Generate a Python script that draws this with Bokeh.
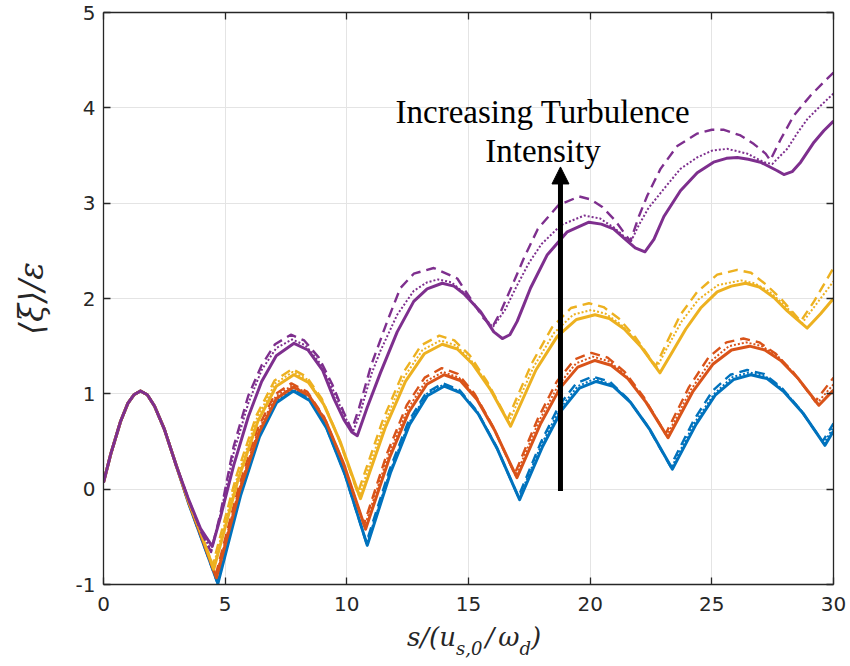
from bokeh.plotting import figure
from bokeh.models import Range1d, FixedTicker, LinearAxis, Label, Arrow, NormalHead, CustomJSTickFormatter, Div
from bokeh.layouts import column
from bokeh.embed import file_html
from bokeh.resources import INLINE

# ---------------- data ----------------
x_ticks = [0, 5, 10, 15, 20, 25, 30]
y_ticks = [-1, 0, 1, 2, 3, 4, 5]

# common start shared by all curves
start_x = [0.0, 0.3, 0.7, 1.0, 1.25, 1.52, 1.8, 2.1, 2.5, 3.0]
start_y = [0.07, 0.37, 0.71, 0.90, 0.99, 1.03, 0.99, 0.87, 0.63, 0.24]

# blue
blue_solid_x = [3.5, 4.0, 4.7, 5.63, 6.41, 7.12, 7.8, 8.47, 9.17, 9.93, 10.84, 11.79, 12.58, 13.31, 14.0, 14.68, 15.40, 16.17, 17.1, 18.05, 18.83, 19.56, 20.25, 20.94, 21.66, 22.44, 23.38, 24.35, 25.15, 25.89, 26.6, 27.27, 27.97, 28.74, 29.65, 30.0]
blue_solid_y = [-0.15, -0.5, -0.99, -0.07, 0.55, 0.91, 1.03, 0.93, 0.64, 0.15, -0.59, 0.17, 0.68, 0.98, 1.08, 1.01, 0.79, 0.43, -0.11, 0.45, 0.83, 1.06, 1.13, 1.08, 0.91, 0.63, 0.21, 0.68, 0.99, 1.15, 1.2, 1.16, 1.02, 0.80, 0.46, 0.61]
blue_dash_x = [3.5, 4.0, 4.68, 5.6, 6.37, 7.08, 7.75, 8.42, 9.12, 9.89, 10.8, 11.75, 12.53, 13.26, 13.95, 14.63, 15.35, 16.12, 17.05, 17.97, 18.73, 19.43, 20.1, 20.8, 21.54, 22.34, 23.3, 24.25, 25.03, 25.76, 26.45, 27.13, 27.85, 28.62, 29.55, 30.0]
blue_dash_y = [-0.15, -0.5, -0.98, -0.05, 0.57, 0.94, 1.06, 0.96, 0.67, 0.18, -0.56, 0.2, 0.71, 1.01, 1.11, 1.04, 0.82, 0.46, -0.08, 0.49, 0.88, 1.11, 1.18, 1.13, 0.95, 0.67, 0.24, 0.72, 1.03, 1.2, 1.25, 1.21, 1.07, 0.84, 0.5, 0.69]
blue_dot_x = [3.5, 4.0, 4.69, 5.62, 6.39, 7.1, 7.78, 8.45, 9.15, 9.91, 10.82, 11.77, 12.55, 13.28, 13.97, 14.65, 15.37, 16.14, 17.07, 18.0, 18.78, 19.49, 20.17, 20.87, 21.6, 22.39, 23.34, 24.3, 25.1, 25.84, 26.55, 27.22, 27.92, 28.69, 29.6, 30.0]
blue_dot_y = [-0.15, -0.5, -0.985, -0.06, 0.56, 0.93, 1.045, 0.95, 0.66, 0.16, -0.575, 0.18, 0.69, 1.0, 1.095, 1.025, 0.81, 0.445, -0.095, 0.47, 0.855, 1.08, 1.155, 1.1, 0.93, 0.65, 0.225, 0.7, 1.0, 1.175, 1.225, 1.18, 1.045, 0.82, 0.48, 0.65]

# orange
orange_solid_x = [3.5, 4.0, 4.64, 5.59, 6.38, 7.11, 7.8, 8.45, 9.14, 9.88, 10.77, 11.74, 12.55, 13.29, 14.0, 14.66, 15.35, 16.09, 16.99, 17.95, 18.76, 19.49, 20.2, 20.86, 21.55, 22.3, 23.2, 24.21, 25.04, 25.81, 26.55, 27.18, 27.83, 28.55, 29.4, 30.0]
orange_solid_y = [-0.14, -0.48, -0.93, -0.02, 0.59, 0.95, 1.07, 0.98, 0.71, 0.26, -0.42, 0.32, 0.81, 1.1, 1.2, 1.14, 0.94, 0.61, 0.12, 0.68, 1.06, 1.28, 1.35, 1.3, 1.16, 0.91, 0.54, 1.02, 1.31, 1.46, 1.5, 1.46, 1.35, 1.16, 0.88, 1.04]
orange_dash_x = [3.5, 4.0, 4.6, 5.54, 6.32, 7.03, 7.72, 8.38, 9.06, 9.81, 10.7, 11.66, 12.46, 13.2, 13.9, 14.56, 15.25, 16.0, 16.9, 17.85, 18.63, 19.36, 20.05, 20.72, 21.42, 22.19, 23.1, 24.06, 24.86, 25.6, 26.3, 26.95, 27.63, 28.37, 29.25, 30.0]
orange_dash_y = [-0.14, -0.47, -0.91, 0.01, 0.63, 0.99, 1.11, 1.02, 0.76, 0.3, -0.37, 0.38, 0.88, 1.17, 1.27, 1.21, 1.0, 0.66, 0.16, 0.74, 1.13, 1.36, 1.43, 1.38, 1.23, 0.97, 0.58, 1.07, 1.38, 1.54, 1.58, 1.54, 1.42, 1.22, 0.92, 1.17]
orange_dot_x = [3.5, 4.0, 4.62, 5.56, 6.35, 7.07, 7.76, 8.41, 9.1, 9.84, 10.73, 11.7, 12.5, 13.24, 13.95, 14.61, 15.3, 16.04, 16.94, 17.89, 18.69, 19.42, 20.12, 20.79, 21.48, 22.24, 23.15, 24.13, 24.95, 25.7, 26.42, 27.06, 27.73, 28.45, 29.32, 30.0]
orange_dot_y = [-0.14, -0.475, -0.92, -0.01, 0.61, 0.97, 1.09, 1.0, 0.74, 0.28, -0.39, 0.35, 0.84, 1.13, 1.23, 1.17, 0.97, 0.64, 0.14, 0.71, 1.09, 1.32, 1.39, 1.34, 1.19, 0.94, 0.56, 1.04, 1.34, 1.5, 1.54, 1.5, 1.39, 1.19, 0.9, 1.1]

# yellow
yellow_solid_x = [3.5, 4.0, 4.53, 5.52, 6.34, 7.1, 7.82, 8.42, 9.05, 9.74, 10.56, 11.57, 12.41, 13.18, 13.92, 14.54, 15.18, 15.89, 16.73, 17.77, 18.64, 19.44, 20.2, 20.79, 21.4, 22.07, 22.87, 23.4, 23.93, 24.54, 25.22, 25.8, 26.39, 26.95, 27.55, 28.1, 28.5, 28.92, 29.47, 30.0]
yellow_solid_y = [-0.13, -0.46, -0.84, 0.09, 0.71, 1.08, 1.2, 1.12, 0.89, 0.49, -0.1, 0.64, 1.13, 1.42, 1.52, 1.47, 1.31, 1.05, 0.66, 1.25, 1.6, 1.78, 1.83, 1.79, 1.68, 1.5, 1.22, 1.45, 1.68, 1.9, 2.07, 2.13, 2.16, 2.12, 2.01, 1.87, 1.78, 1.69, 1.84, 2.0]
yellow_dash_x = [3.5, 4.0, 4.48, 5.46, 6.28, 7.03, 7.75, 8.34, 8.97, 9.64, 10.45, 11.46, 12.29, 13.06, 13.8, 14.42, 15.06, 15.76, 16.6, 17.6, 18.44, 19.21, 19.95, 20.55, 21.18, 21.87, 22.69, 23.17, 23.71, 24.4, 25.22, 26.04, 26.61, 27.21, 27.87, 28.65, 29.2, 30.0]
yellow_dash_y = [-0.12, -0.44, -0.8, 0.14, 0.77, 1.14, 1.26, 1.18, 0.95, 0.55, -0.04, 0.71, 1.21, 1.51, 1.61, 1.56, 1.4, 1.13, 0.73, 1.32, 1.7, 1.9, 1.95, 1.91, 1.79, 1.59, 1.29, 1.55, 1.83, 2.07, 2.25, 2.3, 2.27, 2.15, 1.99, 1.76, 1.97, 2.32]
yellow_dot_x = [3.5, 4.0, 4.5, 5.48, 6.3, 7.06, 7.78, 8.38, 9.0, 9.68, 10.5, 11.51, 12.34, 13.11, 13.85, 14.47, 15.11, 15.81, 16.65, 17.67, 18.52, 19.3, 20.05, 20.64, 21.25, 21.92, 22.72, 23.2, 23.76, 24.45, 25.25, 26.2, 26.75, 27.33, 27.95, 28.7, 29.35, 30.0]
yellow_dot_y = [-0.12, -0.45, -0.82, 0.11, 0.74, 1.11, 1.23, 1.15, 0.92, 0.52, -0.07, 0.67, 1.17, 1.46, 1.56, 1.51, 1.35, 1.09, 0.7, 1.28, 1.64, 1.83, 1.88, 1.84, 1.73, 1.55, 1.27, 1.5, 1.76, 1.99, 2.14, 2.19, 2.16, 2.08, 1.94, 1.74, 1.96, 2.18]

# purple
purple_solid_x = [3.5, 4.0, 4.47, 4.8, 5.35, 5.95, 6.5, 7.1, 7.83, 8.4, 9.0, 9.47, 9.9, 10.2, 10.43, 10.84, 11.38, 12.07, 12.75, 13.3, 13.92, 14.4, 14.81, 15.5, 16.04, 16.39, 16.7, 17.0, 17.27, 17.55, 18.24, 19.06, 19.95, 20.46, 20.96, 21.4, 21.85, 22.25, 22.62, 23.03, 23.71, 24.4, 25.07, 25.6, 26.05, 26.5, 27.0, 27.69, 27.96, 28.3, 28.65, 29.2, 29.6, 30.0]
purple_solid_y = [-0.11, -0.42, -0.6, -0.3, 0.25, 0.76, 1.13, 1.4, 1.53, 1.46, 1.25, 0.95, 0.72, 0.6, 0.56, 0.86, 1.22, 1.65, 1.97, 2.1, 2.16, 2.13, 2.05, 1.86, 1.65, 1.58, 1.62, 1.76, 1.93, 2.11, 2.46, 2.7, 2.8, 2.78, 2.73, 2.63, 2.53, 2.49, 2.62, 2.86, 3.13, 3.32, 3.43, 3.47, 3.48, 3.46, 3.43, 3.34, 3.30, 3.33, 3.43, 3.64, 3.76, 3.86]
purple_dash_x = [3.5, 4.0, 4.42, 4.8, 5.35, 5.95, 6.5, 7.05, 7.7, 8.25, 8.85, 9.4, 9.85, 10.2, 10.5, 11.0, 11.66, 12.2, 12.75, 13.57, 14.54, 15.08, 15.63, 15.98, 16.32, 16.87, 17.27, 17.85, 18.7, 19.55, 20.01, 20.5, 21.02, 21.65, 22.0, 22.35, 22.89, 23.58, 24.4, 25.0, 25.5, 26.18, 26.73, 27.21, 27.4, 27.83, 28.37, 29.06, 29.6, 30.0]
purple_dash_y = [-0.11, -0.44, -0.66, -0.26, 0.45, 0.98, 1.3, 1.52, 1.62, 1.56, 1.38, 1.1, 0.82, 0.62, 0.85, 1.3, 1.76, 2.11, 2.26, 2.32, 2.21, 2.0, 1.79, 1.70, 1.86, 2.18, 2.42, 2.73, 2.98, 3.07, 3.04, 2.96, 2.82, 2.6, 2.86, 3.08, 3.36, 3.6, 3.73, 3.77, 3.77, 3.71, 3.62, 3.52, 3.45, 3.67, 3.92, 4.13, 4.27, 4.37]
purple_dot_x = [3.5, 4.0, 4.42, 4.8, 5.35, 5.95, 6.5, 7.1, 7.75, 8.3, 8.9, 9.45, 9.9, 10.25, 10.55, 11.0, 11.38, 12.07, 12.75, 13.3, 13.75, 14.3, 14.9, 15.45, 16.0, 16.5, 17.0, 17.5, 18.0, 18.8, 19.75, 20.4, 21.0, 21.66, 22.0, 22.4, 23.03, 23.71, 24.4, 25.0, 25.63, 26.45, 27.14, 27.48, 28.1, 28.5, 28.92, 29.5, 30.0]
purple_dot_y = [-0.11, -0.44, -0.64, -0.27, 0.38, 0.9, 1.25, 1.48, 1.57, 1.51, 1.32, 1.03, 0.77, 0.6, 0.8, 1.2, 1.45, 1.83, 2.08, 2.17, 2.2, 2.17, 2.04, 1.86, 1.7, 1.88, 2.14, 2.38, 2.57, 2.77, 2.87, 2.84, 2.74, 2.59, 2.77, 2.95, 3.15, 3.36, 3.48, 3.55, 3.57, 3.52, 3.43, 3.41, 3.57, 3.73, 3.88, 4.03, 4.15]

# arrow and annotation
arrow_x = 18.78
arrow_y0 = -0.02
arrow_y1 = 3.38
note_x = 18.06
note_lines = ["Increasing Turbulence", "Intensity"]
note_y = [3.96, 3.55]

# ---------------- figure ----------------
W = 848
p = figure(width=W, height=624, x_range=Range1d(0, 30), y_range=Range1d(-1, 5),
           output_backend="svg", toolbar_location=None,
           min_border_left=103, min_border_right=15, min_border_top=12, min_border_bottom=40)
p.background_fill_color = "white"
p.border_fill_color = "white"
p.outline_line_color = None

AX = "#262626"

def style_axis(ax, ticks, labels=True):
    ax.ticker = FixedTicker(ticks=ticks)
    ax.axis_line_color = AX
    ax.axis_line_width = 1.3
    ax.major_tick_in = 7
    ax.major_tick_out = 0
    ax.major_tick_line_color = AX
    ax.major_tick_line_width = 1.3
    ax.minor_tick_line_color = None
    if labels:
        ax.major_label_text_font = "DejaVu Sans"
        ax.major_label_text_font_size = "20px"
        ax.major_label_text_color = AX
    else:
        ax.formatter = CustomJSTickFormatter(code="return ''")
        ax.major_label_text_font_size = "1px"
        ax.major_label_standoff = 0

bottom_ax = p.xaxis[0]
left_ax = p.yaxis[0]
style_axis(bottom_ax, x_ticks)
style_axis(left_ax, y_ticks)
bottom_ax.major_label_standoff = 12
left_ax.major_label_standoff = 8
left_ax.major_label_overrides = {-1: "-1"}

# y axis label
left_ax.axis_label = "⟨ξ⟩/ε"
left_ax.axis_label_text_font = "DejaVu Serif"
left_ax.axis_label_text_font_style = "italic"
left_ax.axis_label_text_font_size = "33px"
left_ax.axis_label_text_color = AX
left_ax.axis_label_standoff = 22

top_ax = LinearAxis()
right_ax = LinearAxis()
style_axis(top_ax, x_ticks, labels=False)
style_axis(right_ax, y_ticks, labels=False)
p.add_layout(top_ax, "above")
p.add_layout(right_ax, "right")

p.xgrid.ticker = FixedTicker(ticks=x_ticks)
p.ygrid.ticker = FixedTicker(ticks=y_ticks)
p.grid.grid_line_color = "#e4e4e4"
p.grid.grid_line_width = 1

# curves
colors = {"blue": "#0072BD", "orange": "#D95319", "yellow": "#EDB120", "purple": "#7E2F8E"}
series = [
    ("blue", blue_solid_x, blue_solid_y, blue_dash_x, blue_dash_y, blue_dot_x, blue_dot_y),
    ("orange", orange_solid_x, orange_solid_y, orange_dash_x, orange_dash_y, orange_dot_x, orange_dot_y),
    ("yellow", yellow_solid_x, yellow_solid_y, yellow_dash_x, yellow_dash_y, yellow_dot_x, yellow_dot_y),
    ("purple", purple_solid_x, purple_solid_y, purple_dash_x, purple_dash_y, purple_dot_x, purple_dot_y),
]
for name, sx, sy, dx, dy, tx, ty in series:
    c = colors[name]
    p.line(start_x + dx, start_y + dy, line_color=c, line_width=2.4, line_dash="10 6", line_join="round")
    p.line(start_x + tx, start_y + ty, line_color=c, line_width=2.0, line_dash="2 2", line_join="round")
    p.line(start_x + sx, start_y + sy, line_color=c, line_width=3.0, line_join="round")

# arrow
p.add_layout(Arrow(end=NormalHead(size=17, fill_color="black", line_color="black", line_width=1),
                   x_start=arrow_x, y_start=arrow_y0, x_end=arrow_x, y_end=arrow_y1,
                   line_color="black", line_width=5))

for txt, ty in zip(note_lines, note_y):
    p.add_layout(Label(x=note_x, y=ty, text=txt, text_font="Liberation Serif", text_font_size="33px",
                       text_color="black", text_align="center", text_baseline="alphabetic"))

# x axis label (with subscripts) as real HTML text below the plot
sub = "font-size:18px;vertical-align:-9px;line-height:0;"
xlabel_html = ('<span>s/(u</span><span style="%s">s,0</span>'
               '<span style="margin-left:3px">/</span><span style="margin-left:4px">ω</span>'
               '<span style="%s">d</span><span>)</span>') % (sub, sub)
xlabel = Div(text=xlabel_html, width=W, height=40, margin=(0, 0, 0, 0),
             styles={"font-family": "DejaVu Serif", "font-style": "italic", "font-size": "26px",
                     "color": AX, "line-height": "1", "padding-left": "407px", "white-space": "nowrap"})

layout = column(p, xlabel, spacing=0)
open("out.html", "w").write(file_html(layout, INLINE))
